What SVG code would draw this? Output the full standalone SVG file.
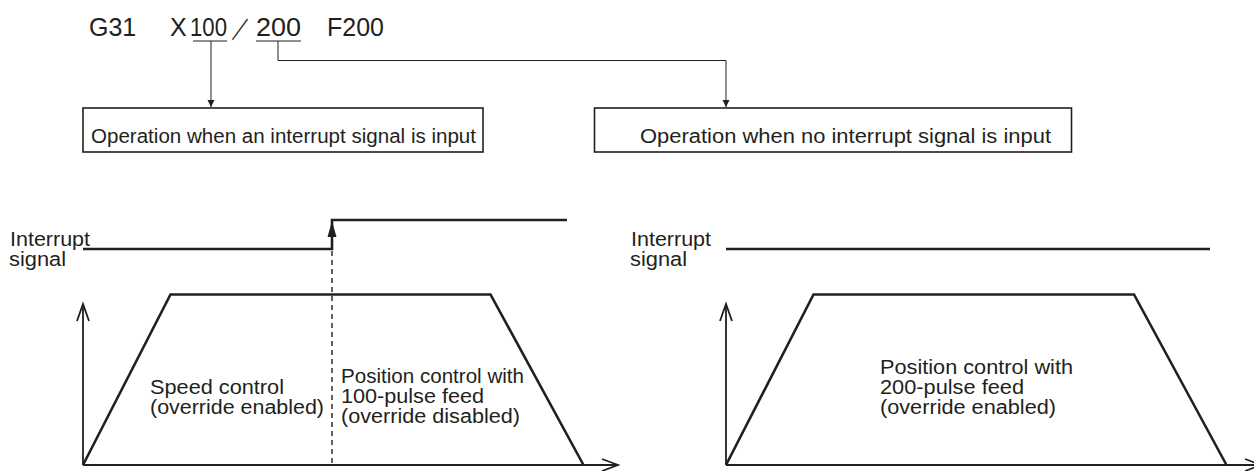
<svg xmlns="http://www.w3.org/2000/svg" width="1254" height="471" viewBox="0 0 1254 471">
<style>
text{font-family:"Liberation Sans",Arial,sans-serif;fill:#231f20}
.code{font-size:25px}
.lbl{font-size:20px}
.box{fill:#fff;stroke:#231f20;stroke-width:1.6}
.thin{fill:none;stroke:#231f20;stroke-width:1}
.sig{fill:none;stroke:#231f20;stroke-width:2.6}
.ax{fill:none;stroke:#231f20;stroke-width:1.8}
.dash{fill:none;stroke:#231f20;stroke-width:1.4;stroke-dasharray:5 4}
</style>
<defs>
<marker id="ah" markerWidth="8" markerHeight="12" refX="7" refY="6" orient="auto" markerUnits="userSpaceOnUse" viewBox="0 0 8 12">
<path d="M0,2.5 L7,6 L0,9.5 Z" fill="#231f20"/>
</marker>
</defs>
<g id="code">
<text class="code" x="89" y="36">G31</text>
<text class="code" x="170" y="36">X</text>
<text class="code" x="190" y="36" textLength="37" lengthAdjust="spacingAndGlyphs">100</text>
<text class="code" x="231" y="36" textLength="20" lengthAdjust="spacingAndGlyphs">／</text>
<text class="code" x="256" y="36" textLength="45" lengthAdjust="spacingAndGlyphs">200</text>
<text class="code" x="327" y="36">F200</text>
<line class="thin" x1="193" y1="41" x2="227" y2="41"/>
<line class="thin" x1="256" y1="41" x2="301" y2="41"/>
</g>
<g id="connectors">
<line class="thin" x1="211" y1="41" x2="211" y2="107" marker-end="url(#ah)"/>
<polyline class="thin" points="278,41 278,60.5 726,60.5 726,107" marker-end="url(#ah)"/>
</g>
<g id="box-interrupt">
<rect class="box" x="83" y="108" width="400" height="44"/>
<text class="lbl" x="91" y="143" textLength="385" lengthAdjust="spacingAndGlyphs">Operation when an interrupt signal is input</text>
</g>
<g id="box-no-interrupt">
<rect class="box" x="594.5" y="108" width="477" height="44"/>
<text class="lbl" x="640" y="143" textLength="411" lengthAdjust="spacingAndGlyphs">Operation when no interrupt signal is input</text>
</g>
<g id="chart-left">
<text class="lbl" x="10" y="246" textLength="80" lengthAdjust="spacingAndGlyphs">Interrupt</text>
<text class="lbl" x="9" y="266" textLength="57" lengthAdjust="spacingAndGlyphs">signal</text>
<polyline class="sig" points="83,249 332,249 332,220 567,220"/>
<path d="M332,221 L336.5,237 L327.5,237 Z" fill="#231f20"/>
<line class="dash" x1="332" y1="251" x2="332" y2="465"/>
<polyline class="ax" points="83,465 83,304"/>
<polyline class="ax" points="77,321 83,304 89,321"/>
<polyline class="ax" points="83,465 618,465"/>
<polyline class="ax" points="602,459 618,465 602,471"/>
<polyline class="sig" points="83,465 170.5,294.5 490.5,294.5 583.5,465"/>
<text class="lbl" x="150" y="394" textLength="134" lengthAdjust="spacingAndGlyphs">Speed control</text>
<text class="lbl" x="150" y="414" textLength="174" lengthAdjust="spacingAndGlyphs">(override enabled)</text>
<text class="lbl" x="341" y="383" textLength="183" lengthAdjust="spacingAndGlyphs">Position control with</text>
<text class="lbl" x="341" y="403" textLength="143" lengthAdjust="spacingAndGlyphs">100-pulse feed</text>
<text class="lbl" x="341" y="423" textLength="179" lengthAdjust="spacingAndGlyphs">(override disabled)</text>
</g>
<g id="chart-right">
<text class="lbl" x="631" y="246" textLength="80" lengthAdjust="spacingAndGlyphs">Interrupt</text>
<text class="lbl" x="630" y="266" textLength="57" lengthAdjust="spacingAndGlyphs">signal</text>
<line class="sig" x1="726" y1="249" x2="1210" y2="249"/>
<polyline class="ax" points="726,465 726,304"/>
<polyline class="ax" points="720,321 726,304 732,321"/>
<polyline class="ax" points="726,465 1261,465"/>
<polyline class="ax" points="1245,459 1261,465 1245,471"/>
<polyline class="sig" points="726,465 813.5,294.5 1134,294.5 1226.5,465"/>
<text class="lbl" x="880" y="374" textLength="193" lengthAdjust="spacingAndGlyphs">Position control with</text>
<text class="lbl" x="880" y="394" textLength="144" lengthAdjust="spacingAndGlyphs">200-pulse feed</text>
<text class="lbl" x="880" y="414" textLength="176" lengthAdjust="spacingAndGlyphs">(override enabled)</text>
</g>
</svg>
